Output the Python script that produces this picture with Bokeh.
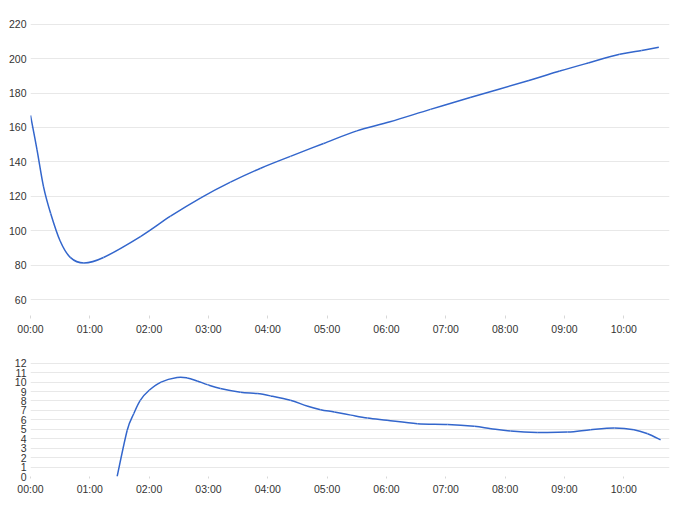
from bokeh.plotting import figure
from bokeh.layouts import column
from bokeh.models import FixedTicker, Range1d
from bokeh.embed import file_html
from bokeh.resources import INLINE

# hour labels
hour_ticks = [0, 1, 2, 3, 4, 5, 6, 7, 8, 9, 10]
hour_labels = ["00:00", "01:00", "02:00", "03:00", "04:00", "05:00",
               "06:00", "07:00", "08:00", "09:00", "10:00"]

# top series (hours, value)
top_hours = [0.00, 0.11, 0.22, 0.34, 0.50, 0.67, 0.90, 1.23, 1.86, 2.36, 2.87,
             3.37, 3.88, 4.38, 4.94, 5.50, 6.06, 6.74, 7.41, 8.40, 8.92, 9.40,
             9.93, 10.30, 10.59]
top_values = [167, 147, 125.5, 110, 94, 84.5, 81.2, 84.4, 96.7, 108.4, 119.1,
              128.2, 136.3, 143.2, 150.7, 158, 163.3, 170.5, 177.4, 187.3, 192.8, 197.5,
              202.5, 204.8, 206.6]
top_yticks = [60, 80, 100, 120, 140, 160, 180, 200, 220]

# bottom series (hours, value)
bot_hours = [1.46, 1.63, 1.74, 1.85, 2.00, 2.20, 2.47, 2.64, 2.81, 2.98, 3.20,
             3.54, 3.82, 4.05, 4.38, 4.66, 4.89, 5.12, 5.40, 5.68, 6.01, 6.52,
             7.03, 7.48, 7.76, 8.09, 8.54, 9.05, 9.44, 9.84, 10.17, 10.40, 10.62]
bot_values = [0, 4.9, 6.65, 8.07, 9.13, 10.0, 10.48, 10.44, 10.12, 9.73, 9.31,
              8.92, 8.78, 8.53, 8.07, 7.47, 7.08, 6.83, 6.5, 6.19, 5.95, 5.59,
              5.52, 5.31, 5.06, 4.81, 4.67, 4.71, 4.96, 5.13, 4.96, 4.53, 3.89]
bot_yticks = [0, 1, 2, 3, 4, 5, 6, 7, 8, 9, 10, 11, 12]

FONT = "Liberation Sans"
FS = "10.5px"
TXT = "#333333"
GRID = "#e8e8e8"
LINE = "#3366cc"


def style(p, yticks, tick_out):
    p.outline_line_color = None
    p.xgrid.grid_line_color = None
    p.ygrid.grid_line_color = GRID
    p.ygrid.ticker = FixedTicker(ticks=yticks)
    p.xaxis.ticker = FixedTicker(ticks=hour_ticks)
    p.xaxis.major_label_overrides = {t: l for t, l in zip(hour_ticks, hour_labels)}
    p.yaxis.ticker = FixedTicker(ticks=yticks)
    for ax in (p.xaxis, p.yaxis):
        ax.axis_line_color = None
        ax.minor_tick_line_color = None
        ax.major_label_text_font = FONT
        ax.major_label_text_font_size = FS
        ax.major_label_text_color = TXT
        ax.major_tick_in = 0
    p.xaxis.major_tick_out = tick_out
    p.xaxis.major_tick_line_color = "#d8d8d8"
    p.xaxis.major_label_standoff = 4
    p.yaxis.major_tick_out = 0
    p.yaxis.major_tick_line_color = None
    p.yaxis.major_label_standoff = 4


def smooth_line(p, xs, ys):
    # cubic (Catmull-Rom style) smoothing drawn with Bokeh's bezier glyph,
    # like the reference's curved line
    n = len(xs)
    x0, y0, x1, y1, cx0, cy0, cx1, cy1 = [], [], [], [], [], [], [], []
    for i in range(n - 1):
        pa = max(i - 1, 0)
        pd = min(i + 2, n - 1)
        x0.append(xs[i]); y0.append(ys[i])
        x1.append(xs[i + 1]); y1.append(ys[i + 1])
        cx0.append(xs[i] + (xs[i + 1] - xs[pa]) / 6.0)
        cy0.append(ys[i] + (ys[i + 1] - ys[pa]) / 6.0)
        cx1.append(xs[i + 1] - (xs[pd] - xs[i]) / 6.0)
        cy1.append(ys[i + 1] - (ys[pd] - ys[i]) / 6.0)
    p.bezier(x0=x0, y0=y0, x1=x1, y1=y1, cx0=cx0, cy0=cy0, cx1=cx1, cy1=cy1,
             line_color=LINE, line_width=1.5)


top = figure(frame_width=639, frame_height=299, output_backend="svg",
             toolbar_location=None, x_range=Range1d(0, 10.77),
             y_range=Range1d(50.7, 224.5),
             min_border_left=30, min_border_right=15, min_border_top=16,
             min_border_bottom=25)
style(top, top_yticks, 3)
smooth_line(top, top_hours, top_values)

bot = figure(frame_width=639, frame_height=115, output_backend="svg",
             toolbar_location=None, x_range=Range1d(0, 10.77),
             y_range=Range1d(0, 12.18),
             min_border_left=30, min_border_right=15, min_border_top=21,
             min_border_bottom=29)
style(bot, bot_yticks, 2)
smooth_line(bot, bot_hours, bot_values)

layout = column(top, bot)
open("out.html", "w").write(file_html(layout, INLINE))
